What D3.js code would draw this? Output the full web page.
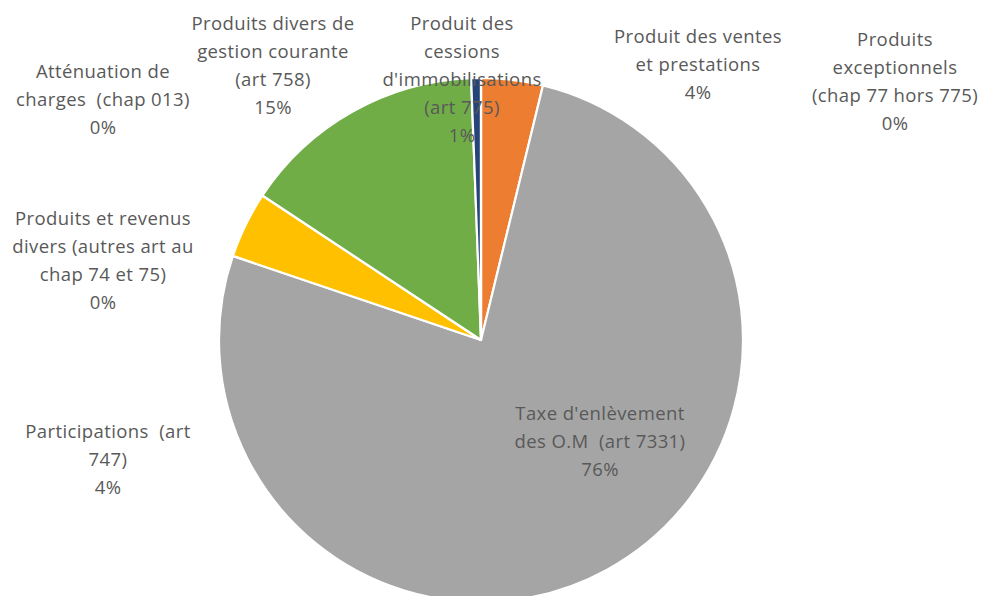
<!DOCTYPE html>
<html>
<head>
<meta charset="utf-8">
<script src="https://cdn.jsdelivr.net/npm/d3@7"></script>
<style>
  html, body { margin: 0; padding: 0; background: #ffffff; }
  svg { display: block; }
</style>
</head>
<body>
<svg id="chart" width="984" height="596"></svg>
<script>
// ---- Data ----
const categories = [
  "Atténuation de charges  (chap 013)",
  "Produit des ventes et prestations",
  "Taxe d'enlèvement des O.M  (art 7331)",
  "Participations  (art 747)",
  "Produits et revenus divers (autres art au chap 74 et 75)",
  "Produits divers de gestion courante (art 758)",
  "Produit des cessions d'immobilisations (art 775)",
  "Produits exceptionnels (chap 77 hors 775)"
];
const values = [0, 3.8, 76.4, 4.1, 0, 15.1, 0.6, 0];
const colors = ["#4472C4", "#ED7D31", "#A5A5A5", "#FFC000", "#5B9BD5", "#70AD47", "#264478", "#9E480E"];
const labelLines = [
  ["Atténuation de", "charges  (chap 013)"],
  ["Produit des ventes", "et prestations"],
  ["Taxe d'enlèvement", "des O.M  (art 7331)"],
  ["Participations  (art", "747)"],
  ["Produits et revenus", "divers (autres art au", "chap 74 et 75)"],
  ["Produits divers de", "gestion courante", "(art 758)"],
  ["Produit des", "cessions", "d'immobilisations", "(art 775)"],
  ["Produits", "exceptionnels", "(chap 77 hors 775)"]
];

// ---- Layout (label block anchors: centre x, first line y) ----
const labelAnchors = [
  [103, 70], [698, 35], [600, 412], [108, 430],
  [103, 217], [273, 22], [462, 22], [895, 38]
];

const W = 984, H = 596;
const cx = 481, cy = 340, R = 262;
const lineH = 28;

const svg = d3.select("#chart");
const total = d3.sum(values);

const pie = d3.pie().value(d => d).sort(null);
const arc = d3.arc().innerRadius(0).outerRadius(R);
const color = d3.scaleOrdinal().domain(categories).range(colors);

const g = svg.append("g").attr("transform", `translate(${cx},${cy})`);
const arcs = pie(values);

g.selectAll("path")
  .data(arcs)
  .join("path")
  .attr("d", arc)
  .attr("fill", (d, i) => color(categories[i]))
  .attr("stroke", "#ffffff")
  .attr("stroke-width", 2.2)
  .attr("stroke-linejoin", "round");

const lbl = svg.append("g")
  .attr("font-family", "'Open Sans', 'Noto Sans', sans-serif")
  .attr("font-size", 18.5)
  .attr("letter-spacing", 0.4)
  .attr("fill", "#595959")
  .attr("text-anchor", "middle");

categories.forEach((c, i) => {
  const lines = labelLines[i].concat([Math.round(values[i] / total * 100) + "%"]);
  const [x, y] = labelAnchors[i];
  const t = lbl.append("text").attr("x", x).attr("y", y).attr("dominant-baseline", "central");
  lines.forEach((ln, k) => {
    t.append("tspan").attr("x", x).attr("y", y + k * lineH).attr("xml:space", "preserve").text(ln);
  });
});
</script>
</body>
</html>
